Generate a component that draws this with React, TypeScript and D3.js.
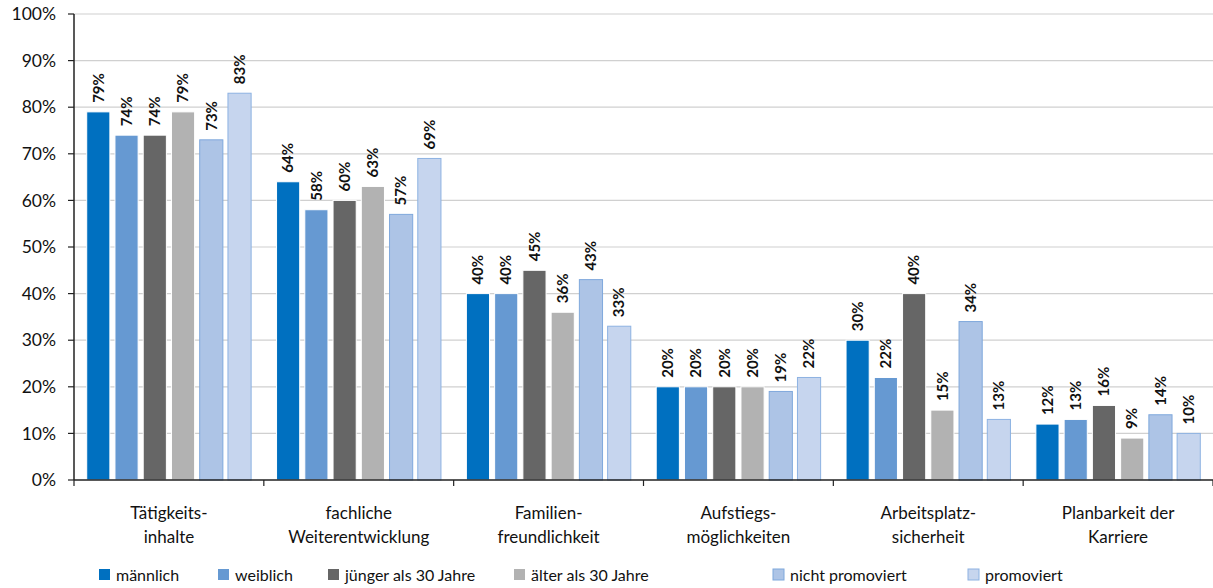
import React from "react";
import * as d3 from "d3";

const categories = [
  ["Tätigkeits-", "inhalte"],
  ["fachliche", "Weiterentwicklung"],
  ["Familien-", "freundlichkeit"],
  ["Aufstiegs-", "möglichkeiten"],
  ["Arbeitsplatz-", "sicherheit"],
  ["Planbarkeit der", "Karriere"],
];
const seriesNames = ["männlich", "weiblich", "jünger als 30 Jahre", "älter als 30 Jahre", "nicht promoviert", "promoviert"];
const maennlich = [79, 64, 40, 20, 30, 12];
const weiblich = [74, 58, 40, 20, 22, 13];
const juenger = [74, 60, 45, 20, 40, 16];
const aelter = [79, 63, 36, 20, 15, 9];
const nichtPromoviert = [73, 57, 43, 19, 34, 14];
const promoviert = [83, 69, 33, 22, 13, 10];
const yTicks = [0, 10, 20, 30, 40, 50, 60, 70, 80, 90, 100];

const series = [maennlich, weiblich, juenger, aelter, nichtPromoviert, promoviert];
const fills = ["#0070C0", "#6699D2", "#666666", "#B2B2B2", "#ADC4E6", "#C6D5EE"];
const strokes = ["#ffffff", "#ffffff", "#ffffff", "#ffffff", "#7FA8DC", "#8DB2E2"];
const legendX = [99, 218, 328, 514, 773, 968];

const W = 1213, H = 588;
const left = 74, right = 1213, top = 14, bottom = 480;
const FONT = "Lato, 'Open Sans', sans-serif";

export default function App() {
  const x0 = d3.scaleBand<number>().domain(d3.range(categories.length)).range([left, right]).paddingInner(0).paddingOuter(0);
  const x1 = d3.scaleBand<number>().domain(d3.range(series.length)).range([0, x0.bandwidth()]).paddingInner(0.18).paddingOuter(0.45);
  const y = d3.scaleLinear().domain([0, 100]).range([bottom, top]);
  const boundaries = d3.range(categories.length + 1).map((i) => left + i * x0.step());

  return (
    <svg width={W} height={H} style={{ position: "absolute", left: 0, top: 0, background: "#fff" }} fontFamily={FONT}>
      {yTicks.map((t) => (
        <g key={t}>
          {t > 0 && <line x1={left} x2={right} y1={y(t)} y2={y(t)} stroke="#D0D0D0" strokeWidth={1.2} />}
          <line x1={left - 6} x2={left} y1={y(t)} y2={y(t)} stroke="#222" strokeWidth={1.2} />
          <text x={56} y={y(t)} dy="0.35em" textAnchor="end" fontSize={17.5} fill="#111">{t}%</text>
        </g>
      ))}
      {series.map((vals, s) =>
        vals.map((v, c) => {
          const bx = x0(c)! + x1(s)!;
          const bw = x1.bandwidth();
          return (
            <g key={`${s}-${c}`}>
              <rect x={bx} y={y(v)} width={bw} height={bottom - y(v)} fill={fills[s]} stroke={strokes[s]} strokeWidth={1} />
              <text transform={`translate(${bx + bw / 2},${y(v) - 9}) rotate(-90)`} dy="0.35em" fontSize={15} fontWeight="bold" fill="#111">{v}%</text>
            </g>
          );
        })
      )}
      <line x1={left} x2={left} y1={top} y2={bottom} stroke="#222" strokeWidth={1.5} />
      <line x1={left} x2={right} y1={bottom} y2={bottom} stroke="#222" strokeWidth={1.5} />
      {boundaries.map((b, i) => (
        <line key={i} x1={b} x2={b} y1={bottom} y2={bottom + 6} stroke="#222" strokeWidth={1.2} />
      ))}
      {categories.map((lines, c) => (
        <text key={c} x={x0(c)! + x0.bandwidth() / 2} y={519} textAnchor="middle" fontSize={17} fill="#111">
          {lines.map((l, i) => (
            <tspan key={i} x={x0(c)! + x0.bandwidth() / 2} dy={i === 0 ? 0 : 24}>{l}</tspan>
          ))}
        </text>
      ))}
      {seriesNames.map((n, s) => (
        <g key={n}>
          <rect x={legendX[s]} y={569} width={11} height={11} fill={fills[s]} stroke={s >= 4 ? strokes[s] : "none"} />
          <text x={legendX[s] + 17} y={575} dy="0.35em" fontSize={16} fill="#111">{n}</text>
        </g>
      ))}
    </svg>
  );
}
